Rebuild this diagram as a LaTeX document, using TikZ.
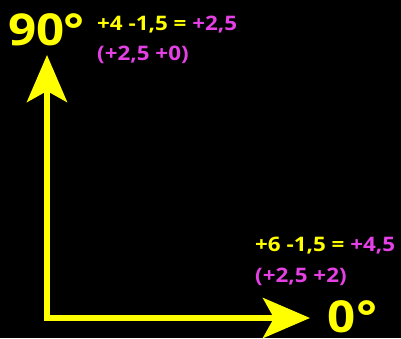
\documentclass[tikz,border=0pt]{standalone}
\usepackage{fontspec}
\setmainfont{Open Sans}
\newfontfamily\widesans[FakeStretch=1.12]{Open Sans}
\definecolor{AxisYellow}{RGB}{255, 255, 0}
\definecolor{SumMagenta}{RGB}{228, 64, 228}
\usetikzlibrary{arrows.meta, positioning}

\begin{document}
\begin{tikzpicture}[x=1pt, y=-1pt,
	axis/.style={draw=AxisYellow, line width=6pt, -{Stealth[length=47pt, width=40pt, inset=11pt]}},
	angle/.style={text=AxisYellow, font=\widesans\fontsize{44}{44}\selectfont\bfseries, inner sep=0pt, anchor=base west},
	calc/.style={font=\widesans\fontsize{20}{20}\selectfont\bfseries, inner sep=0pt, anchor=base west},
	>=Stealth]
	\fill[black] (0,0) rectangle (401,338);
	\useasboundingbox (0,0) rectangle (401,338);
	\coordinate (o) at (47,318);
	\coordinate (ytip) at (47,55);
	\coordinate (xtip) at (310,318);
	\draw[axis] ([yshift=3pt]o) -- (ytip);
	\draw[axis] ([xshift=-3pt]o) -- (xtip);
	\node[angle] (up) at (8,45) {90\hspace{-1pt}°};
	\node[angle] (right) at (327,332.5) {0\hspace{1pt}°};
	\node[calc] (upsum) at (97,30) {\textcolor{AxisYellow}{+4 -1,5 =} \textcolor{SumMagenta}{+2,5}};
	\node[calc, text=SumMagenta] (uppair) at (97,60) {(+2,5 +0)};
	\node[calc] (rightsum) at (255,251) {\textcolor{AxisYellow}{+6 -1,5 =} \textcolor{SumMagenta}{+4,5}};
	\node[calc, text=SumMagenta] (rightpair) at (255,282) {(+2,5 +2)};
\end{tikzpicture}
\end{document}
